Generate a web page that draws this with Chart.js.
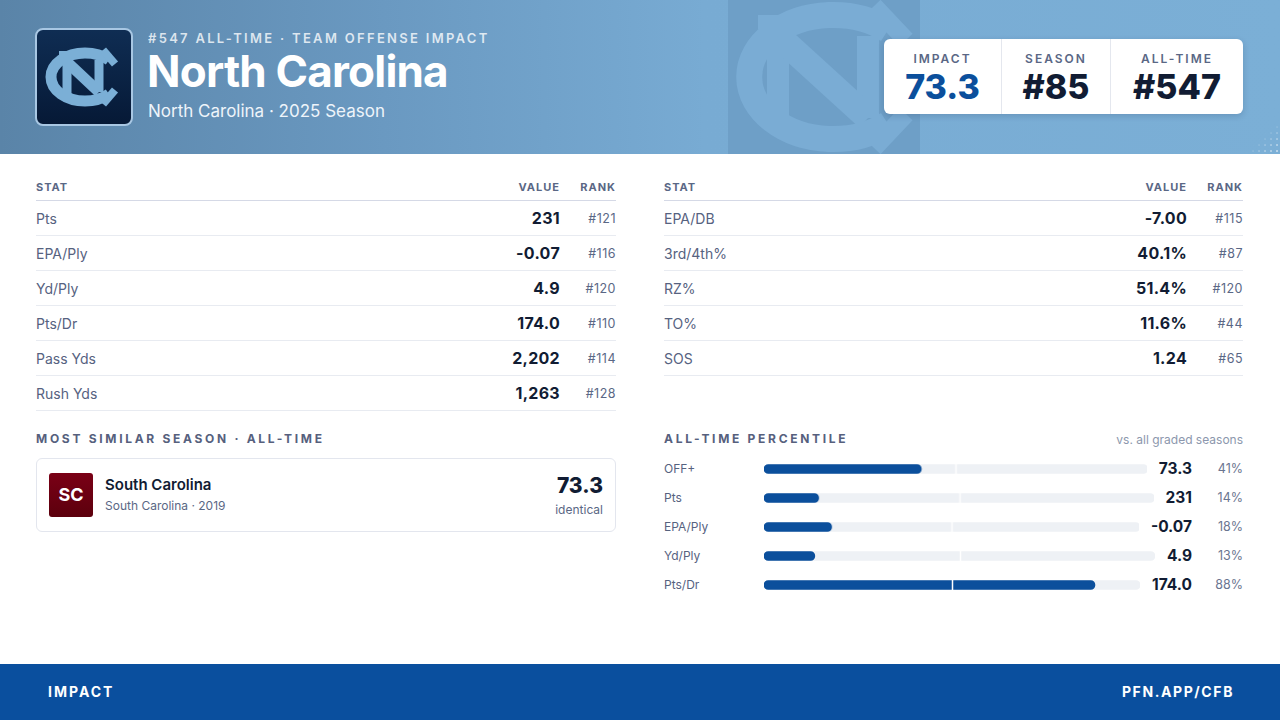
<!DOCTYPE html>
<html>
<head>
<meta charset="utf-8">
<script src="https://cdn.jsdelivr.net/npm/chart.js@4.4.1/dist/chart.umd.min.js"></script>
<style>
  * { box-sizing: border-box; margin: 0; padding: 0; }
  body { width: 1280px; height: 720px; overflow: hidden; background: #fff; font-family: Inter, "Noto Sans", sans-serif; color: #111c33; position: relative; }
  .header { position: absolute; left: 0; top: 0; width: 1280px; height: 154px; background: linear-gradient(90deg, #5a84a8 0%, #6a99c1 30%, #78abd3 55%, #7bafd6 100%); overflow: hidden; }
  .wm { position: absolute; left: 728px; top: 0; width: 192px; height: 154px; background: #6e9fc7; }
  .dots { position: absolute; right: 0; bottom: 0; width: 30px; height: 30px; background-image: radial-gradient(circle, rgba(255,255,255,0.55) 1px, transparent 1.3px); background-size: 6px 6px; -webkit-mask-image: linear-gradient(135deg, transparent 40%, #000 100%); mask-image: linear-gradient(135deg, transparent 40%, #000 100%); }
  .logo { position: absolute; left: 35px; top: 28px; width: 98px; height: 98px; border-radius: 8px; border: 2px solid #a8c7e3; background: linear-gradient(180deg, #0f2d53 0%, #061936 100%); }
  .kicker { position: absolute; left: 148px; top: 30px; font-size: 13px; font-weight: 600; letter-spacing: 2.3px; color: rgba(255,255,255,0.78); line-height: 16px; }
  .title { position: absolute; left: 147px; top: 48px; font-size: 44px; font-weight: 700; color: #fff; letter-spacing: -0.8px; line-height: 46px; }
  .sub { position: absolute; left: 148px; top: 101px; font-size: 17px; color: #eef4fa; }
  .sbox { position: absolute; left: 884px; top: 39px; width: 359px; height: 75px; background: #fff; border-radius: 6px; box-shadow: 0 2px 6px rgba(20,40,70,0.18); display: flex; }
  .sbox .c { text-align: center; border-right: 1px solid #e4e7ee; padding-top: 13px; }
  .sbox .c:last-child { border-right: none; }
  .sbox .l { font-size: 12px; font-weight: 600; letter-spacing: 2px; color: #5a6785; line-height: 14px; }
  .sbox .v { font-size: 34px; font-weight: 800; line-height: 40px; margin-top: 1px; color: #111c33; }
  .sbox .v.blue { color: #0b4f9c; }
  .tbl { position: absolute; top: 178px; }
  .tbl .hd { display: flex; height: 23px; border-bottom: 1px solid #d5d9e6; font-size: 11px; font-weight: 700; letter-spacing: 1px; color: #5a6785; line-height: 18px; }
  .tbl .row { display: flex; height: 35px; align-items: center; border-bottom: 1px solid #e8ebf1; }
  .tbl .n { flex: 1; font-size: 14px; color: #56627f; }
  .tbl .hd .n { font-size: 11px; color: #5a6785; }
  .tbl .val { text-align: right; font-size: 16px; font-weight: 700; color: #111c33; letter-spacing: 0.3px; }
  .tbl .hd .val { font-size: 11px; font-weight: 700; color: #5a6785; letter-spacing: 1px; }
  .tbl .rk { width: 56px; text-align: right; font-size: 12.5px; color: #5a6785; letter-spacing: 0.5px; }
  .tbl .hd .rk { font-size: 11px; font-weight: 700; letter-spacing: 1px; }
  .sec { position: absolute; top: 431px; font-size: 12px; font-weight: 700; letter-spacing: 2.7px; color: #56607d; }
  .note { position: absolute; top: 432px; right: 37px; font-size: 12px; color: #8c97ad; }
  .card { position: absolute; left: 36px; top: 458px; width: 580px; height: 74px; border: 1px solid #e3e6ee; border-radius: 6px; }
  .badge { position: absolute; left: 12px; top: 14px; width: 44px; height: 44px; border-radius: 3px; background: linear-gradient(180deg, #7a0016, #5c000d); color: #fff; font-weight: 700; font-size: 18px; text-align: center; line-height: 44px; }
  .cname { position: absolute; left: 68px; top: 16px; font-size: 15px; font-weight: 600; color: #111c33; }
  .csub { position: absolute; left: 68px; top: 39px; font-size: 12px; color: #5a6785; }
  .cval { position: absolute; right: 12px; top: 14px; font-size: 21px; font-weight: 800; color: #111c33; }
  .cid { position: absolute; right: 12px; top: 43px; font-size: 12px; color: #5a6785; }
  .pct { position: absolute; left: 664px; top: 454px; width: 579px; }
  .prow { display: flex; align-items: center; height: 29px; }
  .plab { width: 100px; font-size: 12px; color: #56627f; }
  .pbar { flex: 1; position: relative; height: 14px; }
  .pval { margin-left: 12px; font-size: 15.5px; font-weight: 700; color: #111c33; text-align: right; }
  .pp { width: 51px; text-align: right; font-size: 12.5px; color: #6a7590; }
  .footer { position: absolute; left: 0; top: 664px; width: 1280px; height: 56px; background: #0a4f9e; color: #fff; font-weight: 700; font-size: 14px; letter-spacing: 2px; }
  .footer .a { position: absolute; left: 48px; top: 19px; }
  .footer .b { position: absolute; right: 46px; top: 19px; letter-spacing: 1.6px; }
</style>
</head>
<body>
<div class="header">
  <div class="wm">
    <svg width="192" height="154" viewBox="0 0 192 154">
      <g fill="none" stroke="#7aacd4" stroke-linecap="butt">
        <path d="M 160 30 A 84 62 0 1 0 160 124" stroke-width="26"/>
        <path d="M 50 36 V 118" stroke-width="22"/>
        <path d="M 140 36 V 118" stroke-width="22"/>
        <path d="M 50 36 L 140 118" stroke-width="26"/>
        <path d="M 146 6 L 178 40" stroke-width="18"/>
        <path d="M 146 148 L 178 114" stroke-width="18"/>
        <path d="M 30 22 H 72" stroke-width="14"/>
      </g>
    </svg>
  </div>
  <div class="dots"></div>
  <div class="logo">
    <svg width="94" height="94" viewBox="0 0 94 94">
      <g fill="none" stroke="#7bafd6">
        <path d="M 72 30 A 34 24 0 1 0 72 64" stroke-width="11"/>
        <path d="M 30 32 V 64" stroke-width="9"/>
        <path d="M 62 30 V 62" stroke-width="9"/>
        <path d="M 30 32 L 62 62" stroke-width="11"/>
        <path d="M 66 20 L 78 34" stroke-width="8"/>
        <path d="M 66 74 L 78 60" stroke-width="8"/>
        <path d="M 22 24 H 40" stroke-width="6"/>
        <path d="M 54 70 H 70" stroke-width="6"/>
      </g>
    </svg>
  </div>
  <div class="kicker">#547 ALL-TIME · TEAM OFFENSE IMPACT</div>
  <div class="title">North Carolina</div>
  <div class="sub">North Carolina · 2025 Season</div>
  <div class="sbox">
    <div class="c" style="width:118px"><div class="l">IMPACT</div><div class="v blue" id="sImpact"></div></div>
    <div class="c" style="width:109px"><div class="l">SEASON</div><div class="v" id="sSeason"></div></div>
    <div class="c" style="width:132px"><div class="l">ALL-TIME</div><div class="v" id="sAll"></div></div>
  </div>
</div>

<div class="tbl" id="tblL" style="left:36px;width:580px"></div>
<div class="tbl" id="tblR" style="left:664px;width:579px"></div>

<div class="sec" style="left:36px">MOST SIMILAR SEASON · ALL-TIME</div>
<div class="card">
  <div class="badge">SC</div>
  <div class="cname">South Carolina</div>
  <div class="csub">South Carolina · 2019</div>
  <div class="cval">73.3</div>
  <div class="cid">identical</div>
</div>

<div class="sec" style="left:664px">ALL-TIME PERCENTILE</div>
<div class="note">vs. all graded seasons</div>
<div class="pct" id="pct"></div>

<div class="footer"><div class="a">IMPACT</div><div class="b">PFN.APP/CFB</div></div>

<script>
// headline numbers
const impactScore = '73.3';
const seasonRank = '#85';
const allTimeRank = '#547';

// left stat table
const leftStats = ['Pts', 'EPA/Ply', 'Yd/Ply', 'Pts/Dr', 'Pass Yds', 'Rush Yds'];
const leftValues = ['231', '-0.07', '4.9', '174.0', '2,202', '1,263'];
const leftRanks = ['#121', '#116', '#120', '#110', '#114', '#128'];

// right stat table
const rightStats = ['EPA/DB', '3rd/4th%', 'RZ%', 'TO%', 'SOS'];
const rightValues = ['-7.00', '40.1%', '51.4%', '11.6%', '1.24'];
const rightRanks = ['#115', '#87', '#120', '#44', '#65'];

// percentile bars
const pctLabels = ['OFF+', 'Pts', 'EPA/Ply', 'Yd/Ply', 'Pts/Dr'];
const pctValues = ['73.3', '231', '-0.07', '4.9', '174.0'];
const pctPercent = [41, 14, 18, 13, 88];

document.getElementById('sImpact').textContent = impactScore;
document.getElementById('sSeason').textContent = seasonRank;
document.getElementById('sAll').textContent = allTimeRank;

const buildTable = (el, names, vals, ranks) => {
    let html = '<div class="hd"><div class="n">STAT</div><div class="val">VALUE</div><div class="rk">RANK</div></div>';
    names.forEach((n, i) => {
        html += '<div class="row"><div class="n">' + n + '</div><div class="val">' + vals[i] + '</div><div class="rk">' + ranks[i] + '</div></div>';
    });
    el.innerHTML = html;
};
buildTable(document.getElementById('tblL'), leftStats, leftValues, leftRanks);
buildTable(document.getElementById('tblR'), rightStats, rightValues, rightRanks);

// white marker at the 50th percentile
const midLine = {
    id: 'midLine',
    afterDatasetsDraw(chart) {
        const x = Math.round(chart.scales.x.getPixelForValue(50)) + 0.5;
        const ctx = chart.ctx;
        ctx.save();
        ctx.strokeStyle = '#ffffff';
        ctx.lineWidth = 1.5;
        ctx.beginPath();
        ctx.moveTo(x, 1);
        ctx.lineTo(x, chart.height - 1);
        ctx.stroke();
        ctx.restore();
    }
};

const pctBox = document.getElementById('pct');
pctLabels.forEach((lab, i) => {
    const row = document.createElement('div');
    row.className = 'prow';
    row.innerHTML = '<div class="plab">' + lab + '</div><div class="pbar"><canvas></canvas></div><div class="pval">' + pctValues[i] + '</div><div class="pp">' + pctPercent[i] + '%</div>';
    pctBox.appendChild(row);
    const canvas = row.querySelector('canvas');
    new Chart(canvas.getContext('2d'), {
        type: 'bar',
        data: {
            labels: [lab],
            datasets: [{
                data: [pctPercent[i]],
                backgroundColor: '#0b4f9c',
                borderRadius: 5,
                borderSkipped: false,
                barThickness: 9,
                grouped: false,
                order: 0
            }, {
                data: [100],
                backgroundColor: '#eef1f5',
                borderRadius: 5,
                borderSkipped: false,
                barThickness: 9,
                grouped: false,
                order: 1
            }]
        },
        options: {
            indexAxis: 'y',
            responsive: true,
            maintainAspectRatio: false,
            animation: false,
            layout: { padding: 0 },
            plugins: { legend: { display: false }, tooltip: { enabled: false } },
            scales: {
                x: { min: 0, max: 100, display: false },
                y: { display: false }
            }
        },
        plugins: [midLine]
    });
});
</script>
</body>
</html>
